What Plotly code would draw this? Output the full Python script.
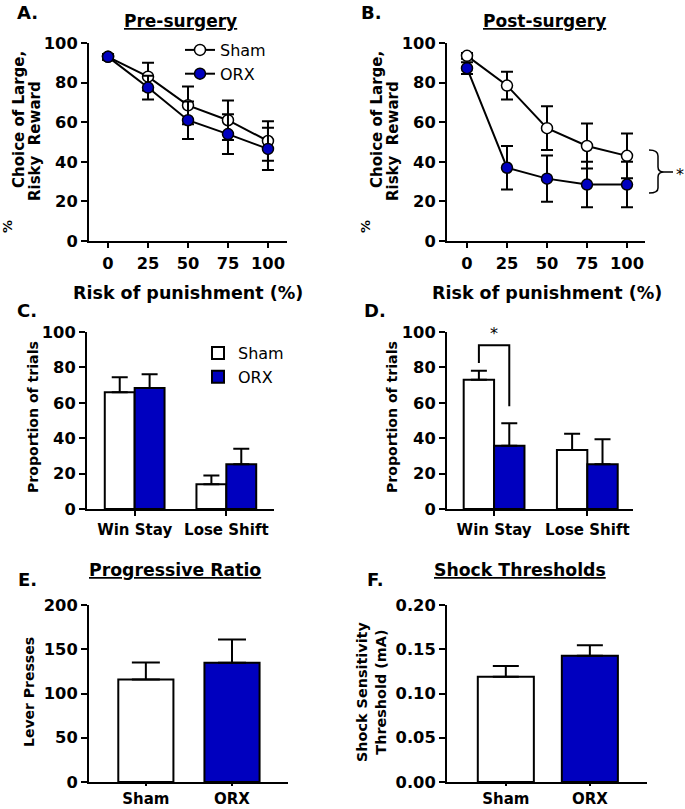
import plotly.graph_objects as go

# ---------------- data ----------------
risk = [0, 25, 50, 75, 100]
pre_sham = [93, 83, 68.5, 61, 50.5]
pre_sham_err = [1.5, 7, 9.5, 10, 10]
pre_orx = [93, 77.5, 61, 54, 46.5]
pre_orx_err = [1.5, 6, 9.5, 10, 10.7]
post_sham = [93.5, 78.5, 57, 48, 43]
post_sham_err = [1.5, 7, 11, 11.4, 11.3]
post_orx = [87.3, 37, 31.5, 28.5, 28.5]
post_orx_err = [3, 11, 11.7, 11.5, 11.5]

strategy = ["Win Stay", "Lose Shift"]
c_sham = [66, 14]
c_sham_err = [8.5, 4.9]
c_orx = [68.3, 25.3]
c_orx_err = [7.9, 8.7]
d_sham = [73, 33.4]
d_sham_err = [5.1, 9.1]
d_orx = [35.8, 25.3]
d_orx_err = [12.7, 14.1]

groups = ["Sham", "ORX"]
pr_vals = [115.8, 134.7]
pr_err = [19.2, 26.4]
shock_vals = [0.119, 0.1426]
shock_err = [0.012, 0.012]

BLUE = "#0000BF"
FONT = "DejaVu Sans"
W, H = 685, 809


def px(x):
    return x / W


def py(y):
    return 1 - y / H


fig = go.Figure()

# ---------------- line panels ----------------
def add_lines(xa, ya, sham, sham_err, orx, orx_err, show):
    for name, vals, err, fill in [("Sham", sham, sham_err, "white"),
                                  ("ORX", orx, orx_err, BLUE)]:
        fig.add_trace(go.Scatter(
            x=risk, y=vals, name=name, mode="lines+markers",
            xaxis=xa, yaxis=ya, showlegend=show, legend="legend",
            line=dict(color="black", width=2),
            marker=dict(size=11, color=fill, line=dict(color="black", width=1.5)),
            error_y=dict(type="data", array=err, color="black", thickness=2, width=6),
            cliponaxis=False))


add_lines("x", "y", pre_sham, pre_sham_err, pre_orx, pre_orx_err, True)
add_lines("x2", "y2", post_sham, post_sham_err, post_orx, post_orx_err, False)

# ---------------- grouped bar panels ----------------
def add_group_bars(xa, ya, sham, sham_err, orx, orx_err, show):
    for name, vals, err, fill in [("Sham", sham, sham_err, "white"),
                                  ("ORX", orx, orx_err, BLUE)]:
        fig.add_trace(go.Bar(
            x=[0, 1], y=vals, name=name, xaxis=xa, yaxis=ya,
            showlegend=show, legend="legend2",
            marker=dict(color=fill, line=dict(color="black", width=2)),
            error_y=dict(type="data", array=err, arrayminus=[0, 0], symmetric=False,
                         color="black", thickness=2, width=8)))


add_group_bars("x3", "y3", c_sham, c_sham_err, c_orx, c_orx_err, True)
add_group_bars("x4", "y4", d_sham, d_sham_err, d_orx, d_orx_err, False)

# ---------------- simple bar panels ----------------
fig.add_trace(go.Bar(x=[0, 1], y=pr_vals, xaxis="x5", yaxis="y5", width=0.64,
                     showlegend=False,
                     marker=dict(color=["white", BLUE], line=dict(color="black", width=2)),
                     error_y=dict(type="data", array=pr_err, arrayminus=[0, 0],
                                  symmetric=False, color="black", thickness=2, width=14)))
fig.add_trace(go.Bar(x=[0, 1], y=shock_vals, xaxis="x6", yaxis="y6", width=0.667,
                     showlegend=False,
                     marker=dict(color=["white", BLUE], line=dict(color="black", width=2)),
                     error_y=dict(type="data", array=shock_err, arrayminus=[0, 0],
                                  symmetric=False, color="black", thickness=2, width=13)))

# ---------------- axes ----------------
tickfont = dict(family=FONT, size=16.3, color="black", weight="bold")
catfont = dict(family=FONT, size=15, color="black", weight="bold")


def xax(dom, anchor, rng, tickvals, ticktext=None, standoff=0, font=tickfont, ticklen=5):
    d = dict(domain=dom, anchor=anchor, range=rng, tickvals=tickvals,
             showline=True, linecolor="black", linewidth=2, ticks="outside",
             ticklen=ticklen, tickwidth=2, tickcolor="black", showgrid=False,
             zeroline=False, tickfont=font, ticklabelstandoff=standoff,
             automargin=False)
    if ticktext is not None:
        d["ticktext"] = ticktext
    return d


def yax(dom, anchor, rng, dtick, fmt=None):
    d = dict(domain=dom, anchor=anchor, range=rng, dtick=dtick, tick0=0,
             showline=True, linecolor="black", linewidth=2, ticks="outside",
             ticklen=6, tickwidth=2, tickcolor="black", showgrid=False,
             zeroline=False, tickfont=tickfont, automargin=False)
    if fmt:
        d["tickformat"] = fmt
    return d


row1 = [py(241), py(43)]
row2 = [py(509), py(332)]
row3 = [py(782), py(605)]

fig.update_layout(
    template="none",
    xaxis=xax([px(89), px(287)], "y", [-11.9, 111.9], risk, None, 1),
    yaxis=yax(row1, "x", [0, 100], 20),
    xaxis2=xax([px(447), px(645)], "y2", [-12.5, 111.25], risk, None, 1),
    yaxis2=yax(row1, "x2", [0, 100], 20),
    xaxis3=xax([px(87), px(274)], "y3", [-0.52, 1.52], [0, 1], strategy, 1, catfont),
    yaxis3=yax(row2, "x3", [0, 100], 20),
    xaxis4=xax([px(447), px(633)], "y4", [-0.505, 1.49], [0, 1], strategy, 1, catfont),
    yaxis4=yax(row2, "x4", [0, 100], 20),
    xaxis5=xax([px(89), px(288)], "y5", [-0.66, 1.65], [0, 1], groups, 0, catfont, 2),
    yaxis5=yax(row3, "x5", [0, 200], 50),
    xaxis6=xax([px(447), px(647)], "y6", [-0.70, 1.68], [0, 1], groups, 0, catfont, 2),
    yaxis6=yax(row3, "x6", [0, 0.2], 0.05, ".2f"),
)

fig.update_layout(
    width=W, height=H, margin=dict(l=0, r=0, t=0, b=0, pad=0, autoexpand=False),
    plot_bgcolor="white", paper_bgcolor="white",
    barmode="group", bargap=0.348, bargroupgap=0,
    font=dict(family=FONT, color="black"),
    legend=dict(x=px(180), y=py(33), xanchor="left", yanchor="top",
                font=dict(family=FONT, size=16, color="black"),
                bgcolor="rgba(0,0,0,0)", itemwidth=30, tracegroupgap=0),
    legend2=dict(x=px(198), y=py(336), xanchor="left", yanchor="top",
                 font=dict(family=FONT, size=16, color="black"),
                 bgcolor="rgba(0,0,0,0)", itemwidth=30, tracegroupgap=0),
)

# ---------------- annotations ----------------
ann = []


def text(x, y, t, size, bold=True, angle=0, xanchor="center"):
    ann.append(dict(x=px(x), y=py(y), xref="paper", yref="paper", text=t,
                    showarrow=False, xanchor=xanchor, yanchor="middle",
                    textangle=angle,
                    font=dict(family=FONT, size=size, color="black",
                              weight="bold" if bold else "normal")))


# panel letters
for lx, ly, lt in [(27, 12, "A."), (371, 12, "B."), (27, 310, "C."),
                   (375, 310, "D."), (27, 579, "E."), (375, 579, "F.")]:
    text(lx, ly, lt, 18)

# titles
text(180, 21, "<u>Pre-surgery</u>", 17)
text(544, 21, "<u>Post-surgery</u>", 17)
text(175, 570, "<u>Progressive Ratio</u>", 17.3)
text(520, 570, "<u>Shock Thresholds</u>", 17.3)

# x titles
text(188, 293, "Risk of punishment (%)", 17.5)
text(547, 293, "Risk of punishment (%)", 17.5)

# y titles
for ox in (0, 358):
    text(7 + ox, 227, "%", 13, angle=-90)
    text(19 + ox, 120, "Choice of Large,", 15, angle=-90)
    text(35 + ox, 141, "Risky  Reward", 15, angle=-90)
text(33, 417, "Proportion of trials", 14.1, angle=-90)
text(392, 417, "Proportion of trials", 14.1, angle=-90)
text(29, 692, "Lever Presses", 14, angle=-90)
text(371, 692, "Shock Sensitivity<br>Threshold (mA)", 14.4, angle=-90)

# D bracket star
bw = (1 - 0.348) / 2
ann.append(dict(x=0, y=99, xref="x4", yref="y4", text="*", showarrow=False,
                font=dict(family=FONT, size=16, color="black")))


# ---------------- shapes ----------------
def dx(p):
    return (p - 447) / 198


def dy(p):
    return (241 - p) / 198


# significance star next to the brace in B
ann.append(dict(x=dx(680), y=dy(174), xref="x2 domain", yref="y2 domain",
                text="*", showarrow=False, xanchor="center", yanchor="middle",
                font=dict(family=FONT, size=16, color="#000000")))

fig.update_layout(annotations=ann)

brace = (f"M {dx(649)},{dy(150)} Q {dx(658)},{dy(150)} {dx(658)},{dy(156)} "
         f"L {dx(658)},{dy(167)} Q {dx(658)},{dy(172)} {dx(664)},{dy(172)} "
         f"L {dx(673)},{dy(172)} M {dx(664)},{dy(172)} "
         f"Q {dx(658)},{dy(172)} {dx(658)},{dy(177)} L {dx(658)},{dy(188)} "
         f"Q {dx(658)},{dy(193)} {dx(649)},{dy(193)}")

fig.update_layout(shapes=[
    dict(type="path", xref="x2 domain", yref="y2 domain", path=brace,
         line=dict(color="black", width=1.5)),
    dict(type="path", xref="x4", yref="y4",
         path=f"M {-bw/2},82.5 L {-bw/2},92.5 L {bw/2},92.5 L {bw/2},58",
         line=dict(color="black", width=2)),
])

fig.write_html(
    "out.html",
    config={"displayModeBar": False},
    post_script="document.body.style.margin='0';document.body.style.overflow='hidden';",
)
